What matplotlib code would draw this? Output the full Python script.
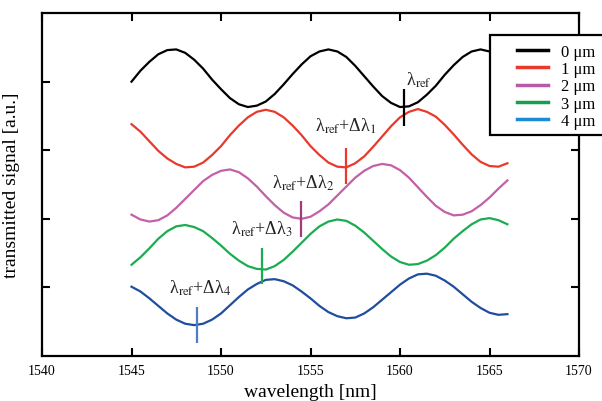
import numpy as np
import matplotlib
matplotlib.use("Agg")
import matplotlib.pyplot as plt
from matplotlib.lines import Line2D
from matplotlib.patches import Rectangle

plt.rcParams['font.family'] = ['Liberation Serif', 'DejaVu Serif']
plt.rcParams['mathtext.fontset'] = 'stix'

# ---------------- data ----------------
wavelength = np.arange(1545.0, 1566.01, 0.5)

sig_0um = [4.00, 4.16, 4.29, 4.40, 4.46, 4.47, 4.42, 4.32, 4.19, 4.03,
           3.89, 3.76, 3.67, 3.63, 3.65, 3.71, 3.82, 3.96, 4.11, 4.25,
           4.37, 4.44, 4.47, 4.44, 4.36, 4.23, 4.08, 3.93, 3.79, 3.69,
           3.63, 3.64, 3.70, 3.81, 3.94, 4.10, 4.24, 4.36, 4.44, 4.47,
           4.44, 4.36, 4.24]
sig_1um = [3.38, 3.27, 3.13, 2.99, 2.88, 2.80, 2.75, 2.76, 2.82, 2.93,
           3.06, 3.22, 3.36, 3.48, 3.56, 3.59, 3.56, 3.48, 3.36, 3.22,
           3.06, 2.93, 2.82, 2.76, 2.75, 2.81, 2.91, 3.05, 3.20, 3.35,
           3.48, 3.56, 3.60, 3.56, 3.49, 3.37, 3.23, 3.08, 2.94, 2.83,
           2.77, 2.76, 2.81]
sig_2um = [2.06, 1.99, 1.96, 1.98, 2.05, 2.16, 2.29, 2.42, 2.55, 2.64,
           2.70, 2.72, 2.68, 2.59, 2.47, 2.33, 2.20, 2.09, 2.02, 2.00,
           2.03, 2.11, 2.21, 2.34, 2.47, 2.60, 2.70, 2.77, 2.80, 2.78,
           2.71, 2.60, 2.46, 2.32, 2.19, 2.10, 2.05, 2.06, 2.11, 2.20,
           2.31, 2.44, 2.56]
sig_3um = [1.33, 1.44, 1.57, 1.71, 1.82, 1.89, 1.91, 1.88, 1.82, 1.72,
           1.61, 1.49, 1.39, 1.31, 1.27, 1.26, 1.31, 1.40, 1.52, 1.65,
           1.78, 1.89, 1.96, 1.99, 1.97, 1.90, 1.80, 1.68, 1.56, 1.45,
           1.37, 1.33, 1.34, 1.39, 1.47, 1.58, 1.71, 1.82, 1.92, 1.99,
           2.01, 1.98, 1.92]
sig_4um = [1.01, 0.94, 0.84, 0.73, 0.62, 0.53, 0.47, 0.45, 0.47, 0.53,
           0.62, 0.74, 0.86, 0.97, 1.05, 1.11, 1.12, 1.09, 1.03, 0.94,
           0.84, 0.73, 0.64, 0.58, 0.55, 0.56, 0.62, 0.71, 0.82, 0.93,
           1.04, 1.13, 1.19, 1.20, 1.17, 1.10, 1.01, 0.90, 0.79, 0.70,
           0.63, 0.60, 0.61]

series_labels = ['0 \u03bcm', '1 \u03bcm', '2 \u03bcm', '3 \u03bcm', '4 \u03bcm']
curve_colors = ['#000000', '#e8392c', '#c45fa8', '#1aac50', '#1f4e9e']
legend_colors = ['#000000', '#e8392c', '#b85aa5', '#13a150', '#1b8bd3']

# reference-wavelength markers
marker_x = [1560.25, 1556.96, 1554.45, 1552.27, 1548.68]
marker_lo = [3.36, 2.51, 1.73, 1.05, 0.19]
marker_hi = [3.90, 3.03, 2.26, 1.58, 0.72]
marker_colors = ['#000000', '#e8392c', '#a33a7c', '#1aac50', '#4f7cc4']

marker_texts = ['\u03bb$_{\\mathrm{ref}}$',
                '\u03bb$_{\\mathrm{ref}}$+\u0394\u03bb$_1$',
                '\u03bb$_{\\mathrm{ref}}$+\u0394\u03bb$_2$',
                '\u03bb$_{\\mathrm{ref}}$+\u0394\u03bb$_3$',
                '\u03bb$_{\\mathrm{ref}}$+\u0394\u03bb$_4$']
text_x = [1560.33, 1556.98, 1554.58, 1552.29, 1548.83]
text_y = [3.96, 3.29, 2.45, 1.78, 0.92]
text_ha = ['left', 'center', 'center', 'center', 'center']

xticks = [1540, 1545, 1550, 1555, 1560, 1565, 1570]
yticks = [1, 2, 3, 4]

# ---------------- figure ----------------
fig = plt.figure(figsize=(6.02, 4.02), dpi=100)
ax = fig.add_axes([0.0698, 0.112, 0.892, 0.853])

series = [sig_0um, sig_1um, sig_2um, sig_3um, sig_4um]
for ys, c in zip(series, curve_colors):
    ax.plot(wavelength, ys, color=c, lw=1.6, solid_joinstyle='round')

for xm, lo, hi, c in zip(marker_x, marker_lo, marker_hi, marker_colors):
    ax.vlines(xm, lo, hi, color=c, lw=1.6)

for t, xt, yt, ha in zip(marker_texts, text_x, text_y, text_ha):
    ax.text(xt, yt, t, ha=ha, va='baseline', fontsize=13, color='#222222')

ax.set_xlim(1540, 1570)
ax.set_ylim(0, 5)
ax.set_xticks(xticks)
ax.set_xticklabels([str(v) for v in xticks])
ax.set_yticks(yticks)
ax.set_yticklabels([])
ax.tick_params(direction='in', length=6, width=1.5, top=True, right=True,
               labelsize=10, pad=6)
for s in ax.spines.values():
    s.set_linewidth(1.6)

ax.set_xlabel('wavelength [nm]', fontsize=14, labelpad=4)
ax.set_ylabel('transmitted signal [a.u.]', fontsize=14, labelpad=10)

# legend box (extends past the right edge like the original)
box = Rectangle((490 / 602, 1 - 136 / 402), 0.25, (136 - 35.7) / 402,
                transform=fig.transFigure, facecolor='white',
                edgecolor='black', lw=1.6, zorder=5)
fig.patches.append(box)

handles = [Line2D([], [], color=c, lw=2.5) for c in legend_colors]
leg = fig.legend(handles, series_labels, loc='upper left',
                 bbox_to_anchor=(510 / 602, 1 - 38 / 402),
                 frameon=False, handlelength=1.9,
                 prop={'family': 'Liberation Serif', 'size': 12},
                 handletextpad=0.75, labelspacing=0.08, borderaxespad=0)
leg.set_zorder(6)

fig.savefig('out.png', dpi=100)
